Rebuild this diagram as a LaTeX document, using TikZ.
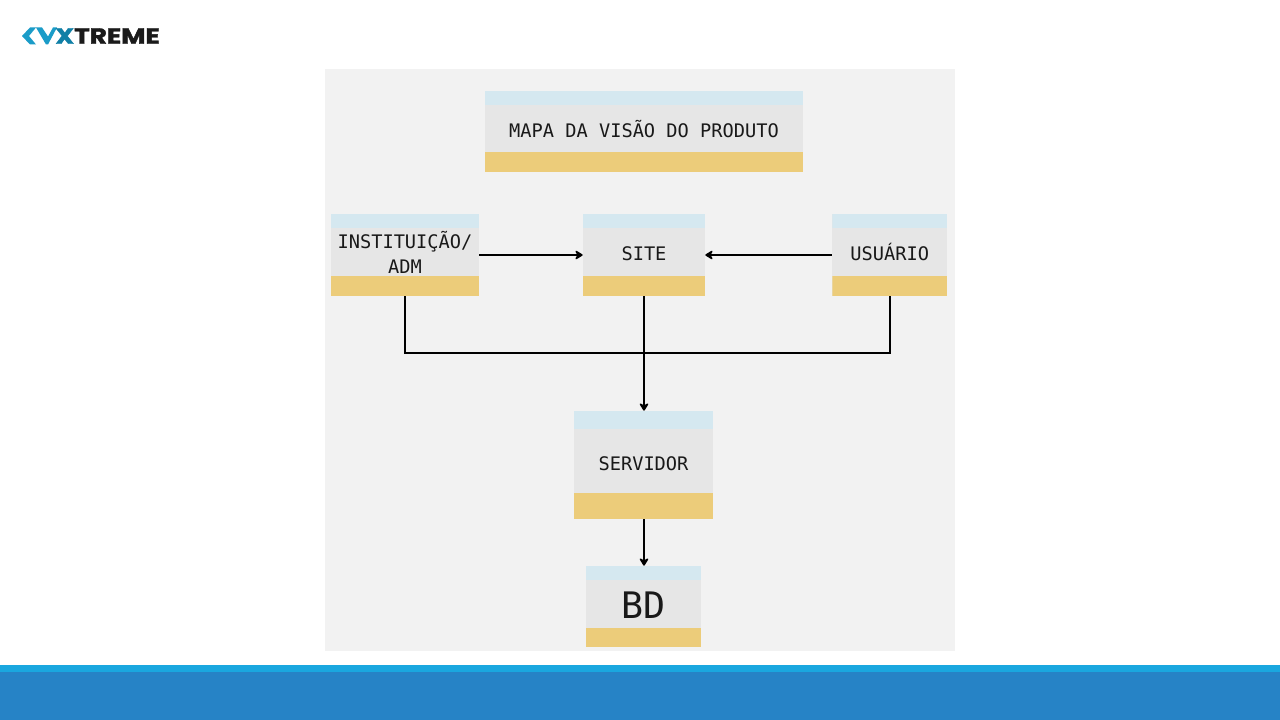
\documentclass[tikz,border=0pt]{standalone}
\usepackage{fontspec}
\setmainfont{DejaVu Sans Mono}
\newfontfamily\logofont[FakeBold=1.5]{Poppins}
\usetikzlibrary{positioning,arrows.meta}
\definecolor{panelgray}{HTML}{F2F2F2}
\definecolor{bodygray}{HTML}{E6E6E6}
\definecolor{bandblue}{HTML}{D5E8F0}
\definecolor{bandyellow}{HTML}{ECCC7A}
\definecolor{logoblue}{HTML}{1B9CC8}
\definecolor{logodeep}{HTML}{0F7FA6}
\definecolor{stripelight}{HTML}{1AA7DF}
\definecolor{stripedark}{HTML}{2683C6}
\definecolor{logoblack}{HTML}{1A1A1A}
% card: height of the top band, height of the bottom band
\tikzset{card/.style 2 args={fill=bodygray,inner sep=0,align=center,text=black!90,text depth=2pt,
    font=\fontsize{14pt}{18.75pt}\selectfont,
    path picture={
      \fill[bandblue] (path picture bounding box.north west) rectangle ([yshift=-#1*0.75pt]path picture bounding box.north east);
      \fill[bandyellow] (path picture bounding box.south west) rectangle ([yshift=#2*0.75pt]path picture bounding box.south east);
    }}}
\tikzset{link/.style={-{Stealth[length=7pt,width=8.5pt,inset=2.5pt,round]},line width=1.9pt,black}}
\tikzset{bus/.style={line width=1.6pt,black}}
\begin{document}
\begin{tikzpicture}[x=0.75pt,y=-0.75pt]
      \useasboundingbox (0,0) rectangle (1280,720);
      \fill[white] (0,0) rectangle (1280,720);
      % footer
      \fill[stripedark] (0,665) rectangle (1280,720);
      \fill[stripelight] (0,665) rectangle (1280,672);
      % logo
      \fill[logoblue] (22,36) -- (30,27.5) -- (36,27.5) -- (29,36) -- (36,44.5) -- (30,44.5) -- cycle;
      \fill[logoblue] (36,27.5) -- (42,27.5) -- (48,36.5) -- (53,27.5) -- (57,27.5) -- (48,44.5) -- (46,44.5) -- cycle;
      \node[inner sep=0,anchor=west,xscale=1.2,transform shape,font=\logofont\bfseries\fontsize{16.5pt}{16.5pt}\selectfont,text=logoblack] (logo) at (55,36) {\textcolor{logodeep}{X}TREME};
      % panel
      \fill[panelgray] (325,69) rectangle (955,651);
      % boxes
      \node[card={14}{20},minimum width=318*0.75pt,minimum height=81*0.75pt] (mapa) at (644,131.5) {MAPA DA VIS\smash{Ã}O DO PRODUTO};
      \node[card={14}{20},minimum width=148*0.75pt,minimum height=82*0.75pt] (inst) at (405,255) {INSTITUI\smash{ÇÃ}O/\\ADM};
      \node[card={14}{20},minimum width=122*0.75pt,minimum height=82*0.75pt] (site) at (644,255) {SITE};
      \node[card={14}{20},minimum width=115*0.75pt,minimum height=82*0.75pt] (user) at (889.75,255) {USU\smash{Á}RIO};
      \node[card={18}{26},minimum width=139*0.75pt,minimum height=108*0.75pt] (serv) at (643.5,465) {SERVIDOR};
      \node[card={14}{19},minimum width=115*0.75pt,minimum height=81*0.75pt,font=\fontsize{27.4pt}{30pt}\selectfont] (bd) at (643.5,606.5) {BD};
      % links
      \coordinate (join) at (site.south |- 0,353);
      \draw[link] (inst) -- (site);
      \draw[link] (user) -- (site);
      \draw[link] (site.south) -- (site.south |- serv.north);
      \draw[link] (site.south |- serv.south) -- (site.south |- bd.north);
      \draw[bus] (inst.south) |- (join);
      \draw[bus] (user.south) |- (join);
    \end{tikzpicture}
\end{document}
